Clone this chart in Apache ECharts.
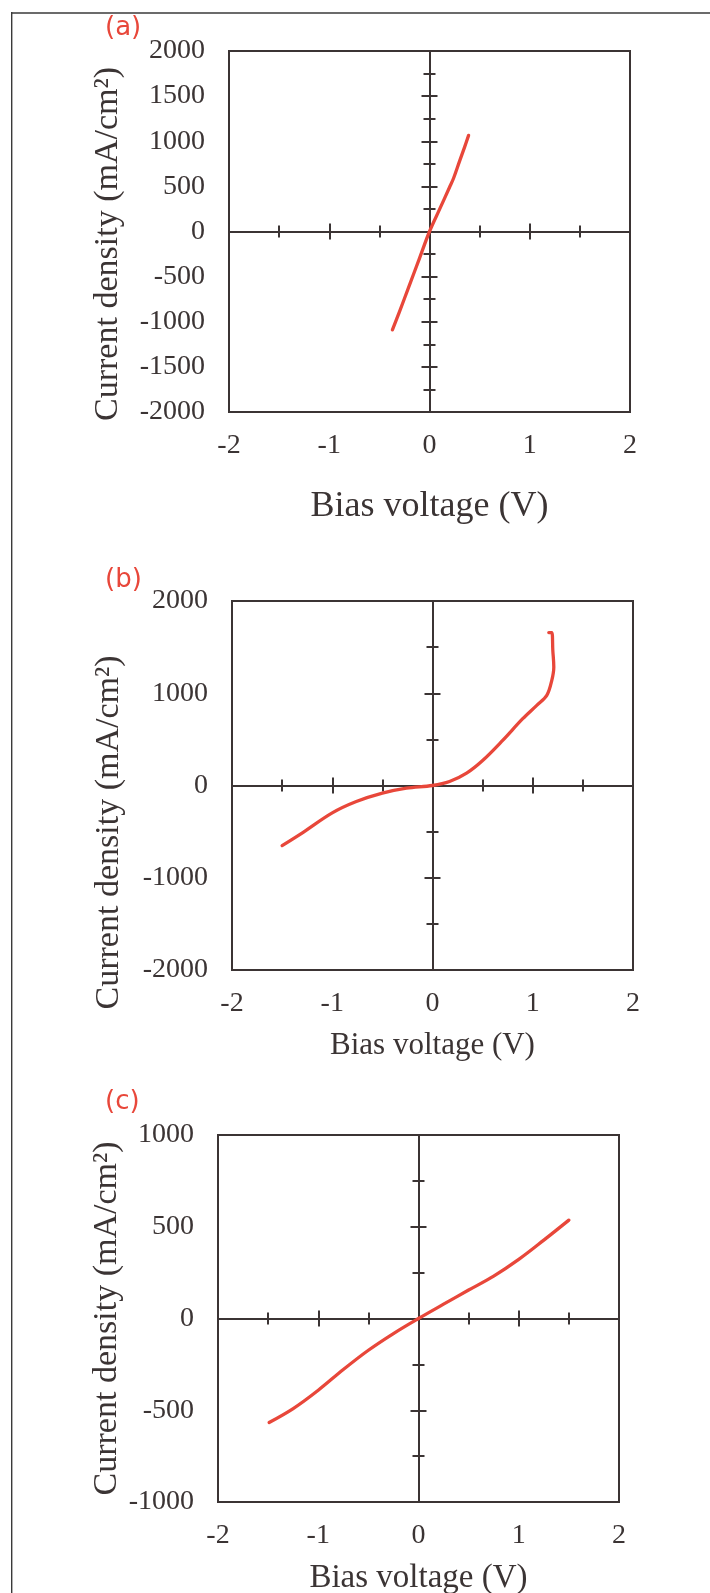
<!DOCTYPE html>
<html>
<head>
<meta charset="utf-8">
<script src="https://cdn.jsdelivr.net/npm/echarts@6/dist/echarts.min.js"></script>
<style>
  html, body { margin: 0; padding: 0; background: #ffffff; }
  #chart { width: 710px; height: 1593px; }
</style>
</head>
<body>
<div id="chart"></div>
<script>
// ---- Data ----
const panelLabels = ['(a)', '(b)', '(c)'];
const xAxisTitle = 'Bias voltage (V)';
const yAxisTitle = 'Current density (mA/cm²)';

const xTickLabels = [-2, -1, 0, 1, 2];
const yTickLabelsA = [-2000, -1500, -1000, -500, 0, 500, 1000, 1500, 2000];
const yTickLabelsB = [-2000, -1000, 0, 1000, 2000];
const yTickLabelsC = [-1000, -500, 0, 500, 1000];

const voltageA = [-0.37, -0.3, -0.2, -0.1, 0, 0.1, 0.2, 0.24, 0.3, 0.35, 0.39];
const currentA = [-1090, -890, -594, -297, 0, 245, 490, 590, 780, 935, 1065];

const voltageB = [-1.5, -1.29, -1.0, -0.76, -0.5, -0.26, 0, 0.17, 0.34, 0.5, 0.7, 0.9, 1.04, 1.14, 1.19, 1.21, 1.2, 1.19, 1.16];
const currentB = [-651, -507, -297, -174, -83, -29, 0, 43, 134, 271, 489, 724, 869, 977, 1140, 1285, 1466, 1658, 1658];

const voltageC = [-1.49, -1.25, -1.0, -0.75, -0.5, -0.25, 0, 0.25, 0.5, 0.75, 1.0, 1.25, 1.5];
const currentC = [-567, -491, -391, -278, -173, -82, 0, 78, 155, 231, 322, 427, 536];

// ---- Styling / layout ----
const ink = '#3b3434';
const red = '#e8473a';
const serif = "'Liberation Serif', 'Times New Roman', serif";

const panels = [
  { grid: { left: 229, top: 51, width: 401, height: 361 }, yTicks: yTickLabelsA, minorSplit: 2,
    xs: voltageA, ys: currentA, yNameGap: 104, yNamePad: 25, xNameGap: 77, xNameSize: 36, labelTop: 15 },
  { grid: { left: 232, top: 601, width: 401, height: 369 }, yTicks: yTickLabelsB, minorSplit: 2,
    xs: voltageB, ys: currentB, yNameGap: 106, yNamePad: 94, xNameGap: 60, xNameSize: 31, labelTop: 567 },
  { grid: { left: 218, top: 1135, width: 401, height: 367 }, yTicks: yTickLabelsC, minorSplit: 2,
    xs: voltageC, ys: currentC, yNameGap: 94, yNamePad: 0, xNameGap: 60, xNameSize: 33, labelTop: 1089 }
];

const grids = [], xAxes = [], yAxes = [], series = [], titles = [];
const plainLabel = function (v) { return String(v); };

panels.forEach(function (p, g) {
  grids.push(Object.assign({ show: true, borderColor: ink, borderWidth: 2, backgroundColor: 'transparent',
    containLabel: false, outerBoundsMode: 'none' }, p.grid));

  const xMin = xTickLabels[0], xMax = xTickLabels[xTickLabels.length - 1];
  const xInt = xTickLabels[1] - xTickLabels[0];
  const yMin = p.yTicks[0], yMax = p.yTicks[p.yTicks.length - 1];
  const yInt = p.yTicks[1] - p.yTicks[0];

  xAxes.push({
    type: 'value', gridIndex: g, min: xMin, max: xMax, interval: xInt, position: 'bottom',
    axisLine: { show: false, onZero: false }, axisTick: { show: false }, splitLine: { show: false },
    axisLabel: { show: true, fontSize: 28, fontFamily: serif, color: ink, margin: 20, formatter: plainLabel },
    name: xAxisTitle, nameLocation: 'middle', nameGap: p.xNameGap, nameMoveOverlap: false,
    nameTextStyle: { fontSize: p.xNameSize, fontFamily: serif, color: ink, lineHeight: p.xNameSize }
  });
  ['bottom', 'top'].forEach(function (pos) {
    xAxes.push({
      type: 'value', gridIndex: g, min: xMin, max: xMax, interval: xInt, position: pos,
      axisLine: { show: true, onZero: true, lineStyle: { color: ink, width: 2 } },
      axisTick: { show: true, length: 8, inside: false, lineStyle: { color: ink, width: 2 } },
      minorTick: { show: true, splitNumber: 2, length: 6, lineStyle: { color: ink, width: 2 } },
      axisLabel: { show: false }, splitLine: { show: false }, minorSplitLine: { show: false }
    });
  });

  yAxes.push({
    type: 'value', gridIndex: g, min: yMin, max: yMax, interval: yInt, position: 'left',
    axisLine: { show: false, onZero: false }, axisTick: { show: false }, splitLine: { show: false },
    axisLabel: { show: true, fontSize: 28, fontFamily: serif, color: ink, margin: 24, formatter: plainLabel },
    name: yAxisTitle, nameLocation: 'middle', nameRotate: 90, nameGap: p.yNameGap, nameMoveOverlap: false,
    nameTextStyle: { fontSize: 34, fontFamily: serif, color: ink, lineHeight: 34,
      padding: [0, p.yNamePad, 0, 0] }
  });
  ['left', 'right'].forEach(function (pos) {
    yAxes.push({
      type: 'value', gridIndex: g, min: yMin, max: yMax, interval: yInt, position: pos,
      axisLine: { show: true, onZero: true, lineStyle: { color: ink, width: 2 } },
      axisTick: { show: true, length: 8, inside: false, lineStyle: { color: ink, width: 2 } },
      minorTick: { show: true, splitNumber: p.minorSplit, length: 6, lineStyle: { color: ink, width: 2 } },
      axisLabel: { show: false }, splitLine: { show: false }, minorSplitLine: { show: false }
    });
  });

  series.push({
    type: 'line', xAxisIndex: g * 3, yAxisIndex: g * 3,
    data: p.xs.map(function (v, i) { return [v, p.ys[i]]; }),
    showSymbol: false, symbol: 'none', smooth: 0.35, z: 10,
    lineStyle: { color: red, width: 3.3, cap: 'round', join: 'round' },
    animation: false
  });

  titles.push({
    text: panelLabels[g], left: 105, top: p.labelTop, padding: 0,
    textStyle: { color: red, fontFamily: "'DejaVu Sans', sans-serif", fontSize: 26, fontWeight: 'normal', lineHeight: 26 }
  });
});

const chart = echarts.init(document.getElementById('chart'), null, { renderer: 'canvas' });
chart.setOption({
  backgroundColor: '#ffffff',
  animation: false,
  title: titles,
  grid: grids,
  xAxis: xAxes,
  yAxis: yAxes,
  series: series,
  graphic: [
    { type: 'line', silent: true, shape: { x1: 11, y1: 13, x2: 710, y2: 13 }, style: { stroke: '#6b6b6b', lineWidth: 2 } },
    { type: 'line', silent: true, shape: { x1: 11.7, y1: 12, x2: 11.7, y2: 1593 }, style: { stroke: '#3a3a3a', lineWidth: 1.4 } }
  ]
});
</script>
</body>
</html>
